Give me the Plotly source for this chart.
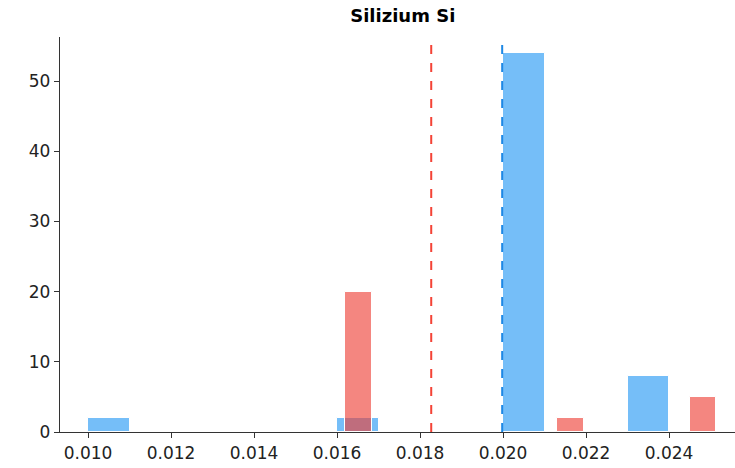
import plotly.graph_objects as go

# Data
blue_bin_starts = [0.010, 0.016, 0.020, 0.023]
blue_counts = [2, 2, 54, 8]
blue_bin_width = 0.001

red_bin_starts = [0.0162, 0.0213, 0.0245]
red_counts = [20, 2, 5]
red_bin_width = 0.00064

red_mean = 0.01827
blue_mean = 0.01998

x_ticks = [0.010, 0.012, 0.014, 0.016, 0.018, 0.020, 0.022, 0.024]
y_ticks = [0, 10, 20, 30, 40, 50]

blue_fill = "rgba(33,150,243,0.62)"
red_fill = "rgba(238,60,50,0.62)"

fig = go.Figure()
fig.add_trace(go.Bar(
    x=blue_bin_starts, y=blue_counts, width=blue_bin_width, offset=0,
    marker=dict(color=blue_fill, line=dict(color="white", width=1)),
    showlegend=False,
))
fig.add_trace(go.Bar(
    x=red_bin_starts, y=red_counts, width=red_bin_width, offset=0,
    marker=dict(color=red_fill, line=dict(color="white", width=1)),
    showlegend=False,
))

fig.add_shape(type="line", xref="x", yref="paper", x0=red_mean, x1=red_mean, y0=0, y1=1,
              line=dict(color="#F44336", width=2, dash="dash"))
fig.add_shape(type="line", xref="x", yref="paper", x0=blue_mean, x1=blue_mean, y0=0, y1=1,
              line=dict(color="#1E88E5", width=2, dash="dash"))

fig.update_layout(
    width=735, height=468,
    margin=dict(l=60, r=0, t=37, b=36),
    paper_bgcolor="white", plot_bgcolor="white",
    barmode="overlay", bargap=0,
    font=dict(family="DejaVu Sans", size=17, color="#222"),
    title=dict(text="<b>Silizium Si</b>", x=0.548, xanchor="center", y=0.98, yanchor="top",
               font=dict(size=18, color="black")),
    xaxis=dict(
        range=[0.009325, 0.02559], tickvals=x_ticks, tickformat=".3f",
        showline=True, linecolor="#333", linewidth=1.3, ticks="outside", ticklen=5,
        tickcolor="#333", showgrid=False, zeroline=False,
    ),
    yaxis=dict(
        range=[0, 56.3], tickvals=y_ticks,
        showline=True, linecolor="#333", linewidth=1.3, ticks="outside", ticklen=5,
        tickcolor="#333", showgrid=False, zeroline=False,
    ),
)

fig.write_html("out.html", config={"displayModeBar": False},
               post_script="document.body.style.margin='0';document.body.style.overflow='hidden';")
